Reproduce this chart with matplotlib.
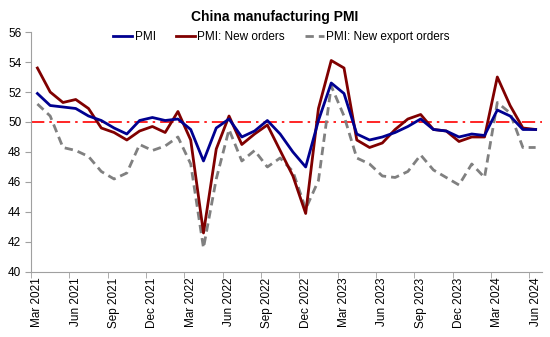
import matplotlib
matplotlib.use("Agg")
import matplotlib.pyplot as plt
from matplotlib.ticker import FixedLocator

months = ["Mar 2021","Apr 2021","May 2021","Jun 2021","Jul 2021","Aug 2021","Sep 2021","Oct 2021","Nov 2021","Dec 2021",
          "Jan 2022","Feb 2022","Mar 2022","Apr 2022","May 2022","Jun 2022","Jul 2022","Aug 2022","Sep 2022","Oct 2022","Nov 2022","Dec 2022",
          "Jan 2023","Feb 2023","Mar 2023","Apr 2023","May 2023","Jun 2023","Jul 2023","Aug 2023","Sep 2023","Oct 2023","Nov 2023","Dec 2023",
          "Jan 2024","Feb 2024","Mar 2024","Apr 2024","May 2024","Jun 2024"]

pmi = [51.9, 51.1, 51.0, 50.9, 50.4, 50.1, 49.6, 49.2, 50.1, 50.3,
       50.1, 50.2, 49.5, 47.4, 49.6, 50.2, 49.0, 49.4, 50.1, 49.2, 48.0, 47.0,
       50.1, 52.6, 51.9, 49.2, 48.8, 49.0, 49.3, 49.7, 50.2, 49.5, 49.4, 49.0,
       49.2, 49.1, 50.8, 50.4, 49.5, 49.5]
new_orders = [53.6, 52.0, 51.3, 51.5, 50.9, 49.6, 49.3, 48.8, 49.4, 49.7,
              49.3, 50.7, 48.8, 42.6, 48.2, 50.4, 48.5, 49.2, 49.8, 48.1, 46.4, 43.9,
              50.9, 54.1, 53.6, 48.8, 48.3, 48.6, 49.5, 50.2, 50.5, 49.5, 49.4, 48.7,
              49.0, 49.0, 53.0, 51.1, 49.6, 49.5]
export_orders = [51.2, 50.4, 48.3, 48.1, 47.7, 46.7, 46.2, 46.6, 48.5, 48.1,
                 48.4, 49.0, 47.2, 41.6, 46.2, 49.5, 47.4, 48.1, 47.0, 47.6, 46.7, 44.2,
                 46.1, 52.4, 50.4, 47.6, 47.2, 46.4, 46.3, 46.7, 47.8, 46.8, 46.3, 45.8,
                 47.2, 46.3, 51.3, 50.6, 48.3, 48.3]
threshold = 50
y_ticks = [40, 42, 44, 46, 48, 50, 52, 54, 56]

plt.rcParams['font.family'] = ['Liberation Sans', 'DejaVu Sans']

fig = plt.figure(figsize=(5.5, 3.37), dpi=100)
ax = fig.add_axes([0.0564, 0.193, 0.9291, 0.712])

x = list(range(len(months)))
ax.axhline(threshold, color='#FF0000', lw=1.2, ls=(0, (8, 3, 1.5, 3)), zorder=1)
ax.plot(x, pmi, color='#000090', lw=2, label='PMI', zorder=3)
ax.plot(x, new_orders, color='#800000', lw=2, label='PMI: New orders', zorder=2)
ax.plot(x, export_orders, color='#808080', lw=2, ls=(0, (3, 1.8)), label='PMI: New export orders', zorder=1.5)

ax.set_xlim(-0.5, len(months) - 0.5)
ax.set_ylim(40, 56)
ax.set_yticks(y_ticks)
ax.set_yticklabels([str(v) for v in y_ticks], fontsize=8.5)

label_pos = list(range(0, len(months), 3))
ax.set_xticks(label_pos)
ax.set_xticklabels([months[i] for i in label_pos], rotation=90, fontsize=8.5)
ax.tick_params(axis='x', which='major', length=0, pad=4)
ax.xaxis.set_minor_locator(FixedLocator([p - 0.5 for p in label_pos]))
ax.tick_params(axis='x', which='minor', length=4, color='#A0A0A0', direction='out')
ax.tick_params(axis='y', length=4, color='#A0A0A0', direction='out', pad=3)

for s in ['top', 'right']:
    ax.spines[s].set_visible(False)
for s in ['left', 'bottom']:
    ax.spines[s].set_color('#A0A0A0')
    ax.spines[s].set_linewidth(0.8)

fig.suptitle('China manufacturing PMI', fontsize=10, fontweight='bold', x=0.5, y=0.97)
leg = ax.legend(loc='upper center', bbox_to_anchor=(0.49, 1.025), ncol=3, frameon=False,
                fontsize=8.5, handlelength=1.6, handletextpad=0.2, columnspacing=1.7, borderaxespad=0)

fig.savefig('out.png', dpi=100)
